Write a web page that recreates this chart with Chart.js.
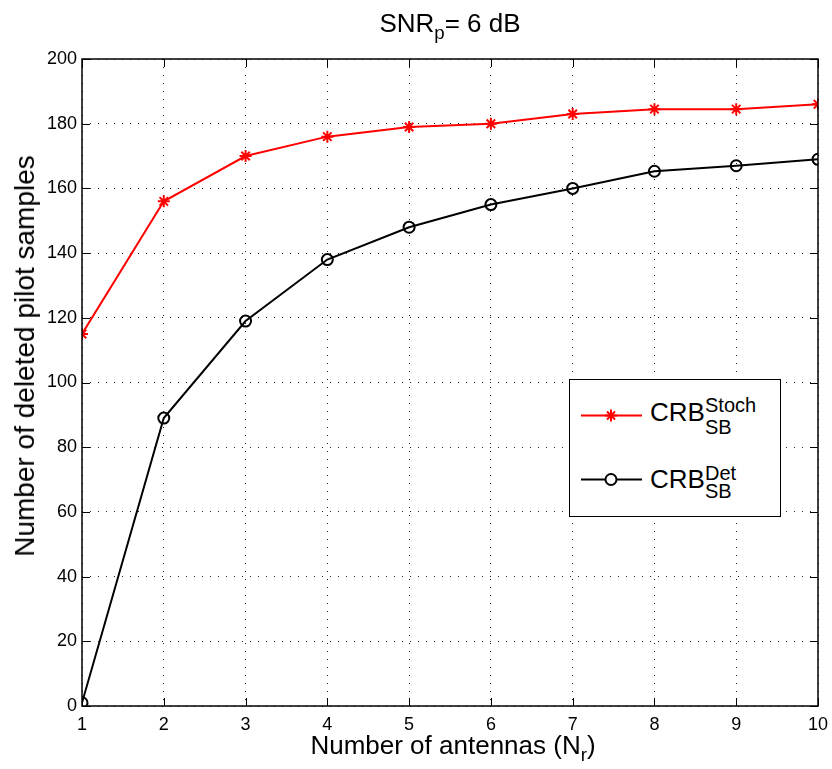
<!DOCTYPE html>
<html>
<head>
<meta charset="utf-8">
<script src="https://cdn.jsdelivr.net/npm/chart.js@4"></script>
<style>
  html, body { margin: 0; padding: 0; background: #fff; }
  body { width: 832px; height: 769px; position: relative; overflow: hidden; font-family: "Liberation Sans", Arial, sans-serif; }
  #wrap { position: absolute; left: 0; top: 0; width: 832px; height: 769px; }
  .lbl { position: absolute; color: #000; white-space: nowrap; line-height: 1; }
  .lbl sub { font-size: 0.72em; line-height: 0; vertical-align: -7px; }
  #title { left: 450px; top: 10px; transform: translateX(-50%); font-size: 26px; }
  #xtitle { left: 453px; top: 732px; transform: translateX(-50%); font-size: 26px; }
  #ytitle { left: 25px; top: 356px; transform: translate(-50%, -50%) rotate(-90deg); font-size: 28px; }
  #legend { position: absolute; left: 569px; top: 379px; width: 210px; height: 136px; border: 1.5px solid #000; background: #fff; }
  #legend svg { position: absolute; left: 0; top: 0; }
  #legend span { position: absolute; line-height: 1; white-space: nowrap; }
  .crb { font-size: 26px; left: 80px; }
  .sm { font-size: 20px; left: 135px; }
</style>
</head>
<body>
<div id="wrap"><canvas id="chart" width="832" height="769"></canvas></div>
<div class="lbl" id="title">SNR<sub>p</sub>= 6 dB</div>
<div class="lbl" id="xtitle">Number of antennas (N<sub>r</sub>)</div>
<div class="lbl" id="ytitle">Number of deleted pilot samples</div>
<div id="legend">
  <svg width="210" height="136">
    <line x1="11" y1="35.5" x2="72" y2="35.5" stroke="#ff0000" stroke-width="2"/>
    <g stroke="#ff0000" stroke-width="2">
      <line x1="41" y1="29.5" x2="41" y2="41.5"/><line x1="35" y1="35.5" x2="47" y2="35.5"/>
      <line x1="37" y1="31.5" x2="45" y2="39.5"/><line x1="45" y1="31.5" x2="37" y2="39.5"/>
    </g>
    <line x1="11" y1="99.5" x2="72" y2="99.5" stroke="#000" stroke-width="2"/>
    <circle cx="41" cy="99.5" r="5.5" fill="#fff" stroke="#000" stroke-width="2"/>
  </svg>
  <span class="crb" style="top:19px">CRB</span>
  <span class="sm" style="top:15px">Stoch</span>
  <span class="sm" style="top:37px">SB</span>
  <span class="crb" style="top:86px">CRB</span>
  <span class="sm" style="top:83px">Det</span>
  <span class="sm" style="top:101px">SB</span>
</div>
<script>
const antennas = [1, 2, 3, 4, 5, 6, 7, 8, 9, 10];
const crbStoch = [115, 156, 170, 176, 179, 180, 183, 184.5, 184.5, 186];
const crbDet = [1, 89, 119, 138, 148, 155, 160, 165.3, 167, 169];
const yTicks = [0, 20, 40, 60, 80, 100, 120, 140, 160, 180, 200];

// box around plot + inward ticks, matlab style
const boxTicks = {
  id: "boxTicks",
  afterDraw(chart) {
    const { ctx, chartArea: a, scales } = chart;
    ctx.save();
    ctx.strokeStyle = "#000";
    ctx.lineWidth = 1.5;
    ctx.strokeRect(a.left, a.top, a.right - a.left, a.bottom - a.top);
    ctx.lineWidth = 1;
    const t = 8;
    ctx.beginPath();
    antennas.forEach(v => {
      const x = Math.round(scales.x.getPixelForValue(v)) + 0.5;
      ctx.moveTo(x, a.bottom); ctx.lineTo(x, a.bottom - t);
      ctx.moveTo(x, a.top); ctx.lineTo(x, a.top + t);
    });
    yTicks.forEach(v => {
      const y = Math.round(scales.y.getPixelForValue(v)) + 0.5;
      ctx.moveTo(a.left, y); ctx.lineTo(a.left + t, y);
      ctx.moveTo(a.right, y); ctx.lineTo(a.right - t, y);
    });
    ctx.stroke();
    ctx.restore();
  }
};

const tickFont = { family: "Liberation Sans", size: 18 };

new Chart(document.getElementById("chart"), {
  type: "line",
  data: {
    datasets: [
      {
        label: "CRB Stoch",
        data: antennas.map((x, i) => ({ x, y: crbStoch[i] })),
        borderColor: "#ff0000",
        backgroundColor: "#ff0000",
        borderWidth: 2,
        pointStyle: "star",
        pointRadius: 6,
        pointBorderWidth: 2,
        tension: 0
      },
      {
        label: "CRB Det",
        data: antennas.map((x, i) => ({ x, y: crbDet[i] })),
        borderColor: "#000",
        backgroundColor: "rgba(0,0,0,0)",
        borderWidth: 2,
        pointStyle: "circle",
        pointRadius: 5.5,
        pointBorderWidth: 2,
        tension: 0
      }
    ]
  },
  options: {
    responsive: false,
    animation: false,
    layout: { padding: { left: 0, right: 14, top: 59, bottom: 0 } },
    plugins: { legend: { display: false }, tooltip: { enabled: false } },
    scales: {
      x: {
        type: "linear",
        min: 1, max: 10,
        afterBuildTicks: ax => { ax.ticks = antennas.map(v => ({ value: v })); },
        afterFit: ax => { ax.height = 63; ax.paddingLeft = 0; ax.paddingRight = 0; },
        grid: { color: "#222", lineWidth: 1, drawTicks: false },
        border: { display: false, dash: [1, 7] },
        ticks: { color: "#000", font: tickFont, padding: 8 }
      },
      y: {
        min: 0, max: 200,
        afterBuildTicks: ax => { ax.ticks = yTicks.map(v => ({ value: v })); },
        afterFit: ax => { ax.width = 82; ax.paddingTop = 0; ax.paddingBottom = 0; },
        grid: { color: "#222", lineWidth: 1, drawTicks: false },
        border: { display: false, dash: [1, 7] },
        ticks: { color: "#000", font: tickFont, padding: 5 }
      }
    }
  },
  plugins: [boxTicks]
});
</script>
</body>
</html>
